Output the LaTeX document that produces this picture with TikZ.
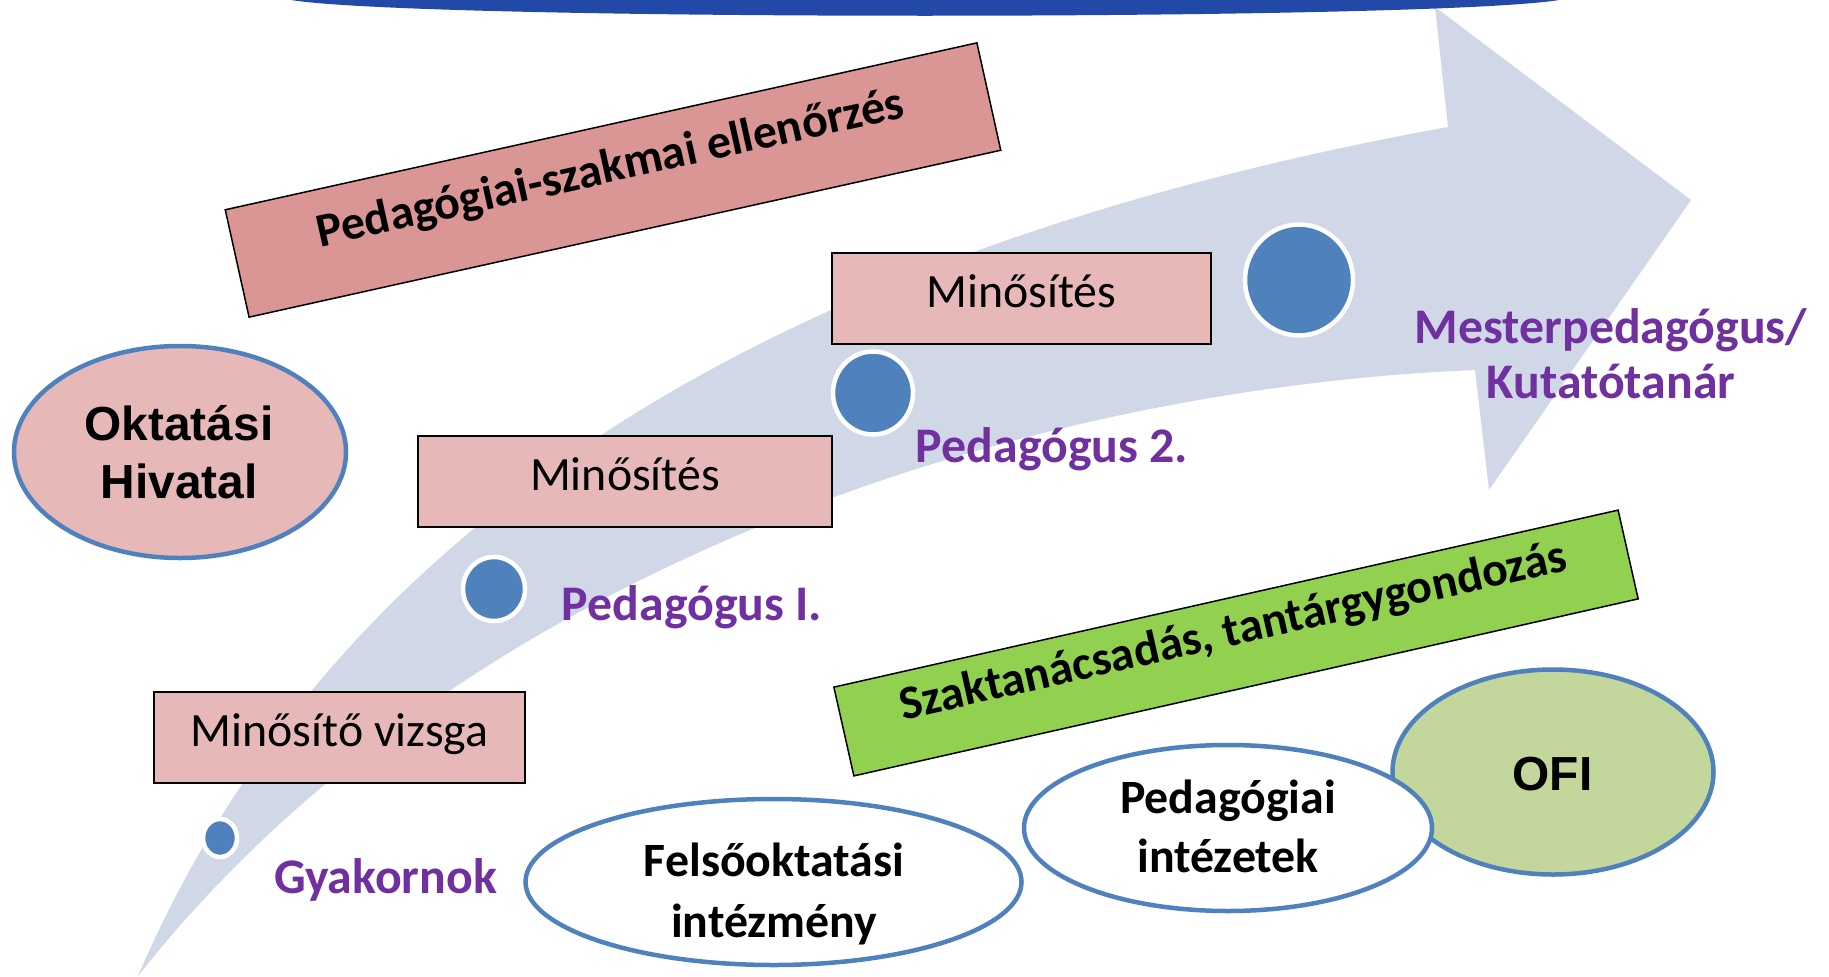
\documentclass[tikz,border=0pt]{standalone}
\usepackage{fontspec}
\setmainfont{Carlito}
\newfontfamily\arialfont{Liberation Sans}
\usetikzlibrary{shapes.geometric}
\definecolor{arrowcol}{RGB}{208,216,232}
\definecolor{bandcol}{RGB}{35,73,168}
\definecolor{lightpink}{RGB}{230,185,184}
\definecolor{darkpink}{RGB}{217,150,148}
\definecolor{greenbox}{RGB}{146,208,80}
\definecolor{ofigreen}{RGB}{195,214,155}
\definecolor{ringblue}{RGB}{79,129,189}
\definecolor{labelpurple}{RGB}{112,48,160}
\tikzset{
  pinkbox/.style={draw=black, line width=1.5bp, fill=lightpink, inner sep=0pt,
     minimum width=#1, minimum height=91bp},
  slantbox/.style={draw=black, line width=1.5bp, inner sep=0pt},
  orgell/.style={ellipse, draw=ringblue, line width=4.5bp, inner sep=0pt},
  dotnode/.style={ellipse, fill=ringblue, draw=white, line width=4.5bp, inner sep=0pt},
  regtxt/.style={inner sep=0pt, anchor=base, font=\fontsize{48}{56}\selectfont},
  boldtxt/.style={inner sep=0pt, anchor=base, font=\fontsize{48}{58}\selectfont\bfseries},
  purpletxt/.style={inner sep=0pt, anchor=base, text=labelpurple, font=\fontsize{50}{58}\selectfont\bfseries},
  ariatxt/.style={inner sep=0pt, anchor=base, font=\fontsize{48}{58}\selectfont\arialfont\bfseries},
}
\begin{document}
\begin{tikzpicture}[x=1bp,y=-1bp]
\useasboundingbox (0,0) rectangle (1829,976);
\fill[white] (0,0) rectangle (1829,976);
% big curved arrow
\fill[arrowcol] (138,976) .. controls (300,600) and (660,270) .. (1448,127)
   -- (1435,7) -- (1691,200) -- (1489,490) -- (1475,370)
   .. controls (1000,390) and (450,580) .. (138,976) -- cycle;
% top band
\fill[bandcol] (291,0) .. controls (420,21) and (1430,21) .. (1559,0) -- cycle;

% slanted boxes
\node[slantbox, fill=darkpink, minimum width=770bp, minimum height=110bp, rotate=12.52] (pszbox) at (613,180) {};
\node[boldtxt, rotate=12.52] (psztxt) at (613.4,182) {Pedagógiai-szakmai ellenőrzés};
\node[slantbox, fill=greenbox, minimum width=804bp, minimum height=91bp, rotate=12.72] (szbox) at (1236,643) {};
\node[boldtxt, rotate=12.72] (sztxt) at (1236.4,645) {Szaktanácsadás, tantárgygondozás};

% pink boxes
\node[pinkbox=379bp] (min2) at (1021.5,298.5) {};
\node[regtxt] (min2t) at (1021.5,307) {Minősítés};
\node[pinkbox=414bp] (min1) at (625,481.5) {};
\node[regtxt] (min1t) at (625,490) {Minősítés};
\node[pinkbox=371bp] (minv) at (339.5,737.5) {};
\node[regtxt] (minvt) at (339.5,746) {Minősítő vizsga};

% dots
\node[dotnode, minimum width=34bp, minimum height=38bp] (d0) at (220,838) {};
\node[dotnode, minimum width=62bp, minimum height=64bp] (d1) at (494,589) {};
\node[dotnode, minimum width=80bp, minimum height=83bp] (d2) at (873,393) {};
\node[dotnode, minimum width=108bp, minimum height=111bp] (d3) at (1299,280) {};

% purple labels
\node[purpletxt] (gy) at (385.5,893) {Gyakornok};
\node[purpletxt] (p1) at (692,620) {Pedagógus I.};
\node[purpletxt] (p2) at (1052,462) {Pedagógus 2.};
\node[purpletxt] (mp1) at (1611,343) {Mesterpedagógus/};
\node[purpletxt] (mp2) at (1611,398) {Kutatótanár};

% organisations
\node[orgell, fill=lightpink, minimum width=332bp, minimum height=212bp] (oh) at (180,452) {};
\node[ariatxt] (oh1) at (179,440) {Oktatási};
\node[ariatxt] (oh2) at (179,498) {Hivatal};

\node[orgell, fill=white, minimum width=496bp, minimum height=166bp] (fi) at (773.5,882) {};
\node[boldtxt] (fi1) at (774,876) {Felsőoktatási};
\node[boldtxt] (fi2) at (774,937) {intézmény};

\node[orgell, fill=ofigreen, minimum width=321bp, minimum height=205bp] (ofi) at (1553,772) {};
\node[ariatxt] (ofit) at (1552.5,790) {OFI};

\node[orgell, fill=white, minimum width=408bp, minimum height=166bp] (pi) at (1228,828) {};
\node[boldtxt] (pi1) at (1228,813) {Pedagógiai};
\node[boldtxt] (pi2) at (1228,872) {intézetek};
\end{tikzpicture}
\end{document}
